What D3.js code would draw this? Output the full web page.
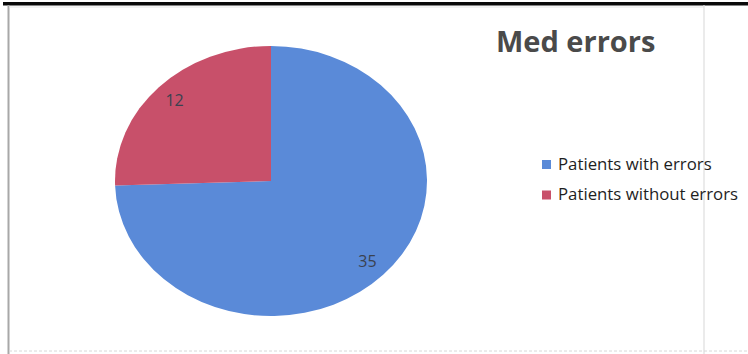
<!DOCTYPE html>
<html>
<head>
<meta charset="utf-8">
<script src="https://cdn.jsdelivr.net/npm/d3@7/dist/d3.min.js"></script>
<style>
  html, body { margin: 0; padding: 0; background: #fff; }
  svg { display: block; }
  text { font-family: "Open Sans", "Liberation Sans", sans-serif; }
</style>
</head>
<body>
<svg id="chart" width="748" height="354"></svg>
<script>
// Chart data
const categories = ["Patients with errors", "Patients without errors"];
const values = [35, 12];
const colors = ["#5A8AD8", "#C8506A"];
const title = "Med errors";

const W = 748, H = 354;
const svg = d3.select("#chart");

// Page and chart-area frame
svg.append("rect").attr("x", 0).attr("y", 0).attr("width", W).attr("height", H).attr("fill", "#fff");
svg.append("rect").attr("x", 3).attr("y", 2).attr("width", W - 3).attr("height", 3.5).attr("fill", "#0a0a0a");
svg.append("rect").attr("x", 7.5).attr("y", 5).attr("width", 2).attr("height", H - 5).attr("fill", "#a8a8a8");
svg.append("line").attr("x1", 9).attr("x2", 704).attr("y1", 7).attr("y2", 7)
  .attr("stroke", "#e6e6e6").attr("stroke-width", 1);
svg.append("line").attr("x1", 704).attr("x2", 704).attr("y1", 5).attr("y2", H)
  .attr("stroke", "#dedede").attr("stroke-width", 1.2);
svg.append("line").attr("x1", 9).attr("x2", W).attr("y1", 351).attr("y2", 351)
  .attr("stroke", "#d8d8d8").attr("stroke-width", 1).attr("stroke-dasharray", "3,2");

// Pie: drawn on a circle and stretched into an ellipse
const cx = 271, cy = 181, rx = 156, ry = 135;
const R = ry;
const pie = d3.pie().sort(null).value(d => d)(values);
const arc = d3.arc().innerRadius(0).outerRadius(R);
const labelArc = d3.arc().innerRadius(R * 0.86).outerRadius(R * 0.86);

const g = svg.append("g").attr("transform", `translate(${cx},${cy}) scale(${rx / ry},1)`);
g.selectAll("path.slice").data(pie).join("path")
  .attr("class", "slice")
  .attr("d", arc)
  .attr("fill", (d, i) => colors[i]);

// Data labels placed on the stretched geometry
svg.append("g").selectAll("text").data(pie).join("text")
  .attr("x", d => cx + labelArc.centroid(d)[0] * rx / ry)
  .attr("y", d => cy + labelArc.centroid(d)[1])
  .attr("dy", "0.36em")
  .attr("text-anchor", "middle")
  .attr("font-size", 16)
  .attr("fill", "#3a4250")
  .text(d => d.data);

// Title
svg.append("text")
  .attr("x", 496).attr("y", 52)
  .attr("font-size", 29)
  .attr("font-weight", 700)
  .attr("fill", "#4a4a4a")
  .text(title);

// Legend
const legend = svg.append("g").attr("transform", "translate(542,160)");
const rows = legend.selectAll("g").data(categories).join("g")
  .attr("transform", (d, i) => `translate(0,${i * 30.5})`);
rows.append("rect").attr("width", 9).attr("height", 9).attr("fill", (d, i) => colors[i]);
rows.append("text").attr("x", 16).attr("y", 9.5)
  .attr("font-size", 16.8)
  .attr("fill", "#1e1e1e")
  .text(d => d);
</script>
</body>
</html>
